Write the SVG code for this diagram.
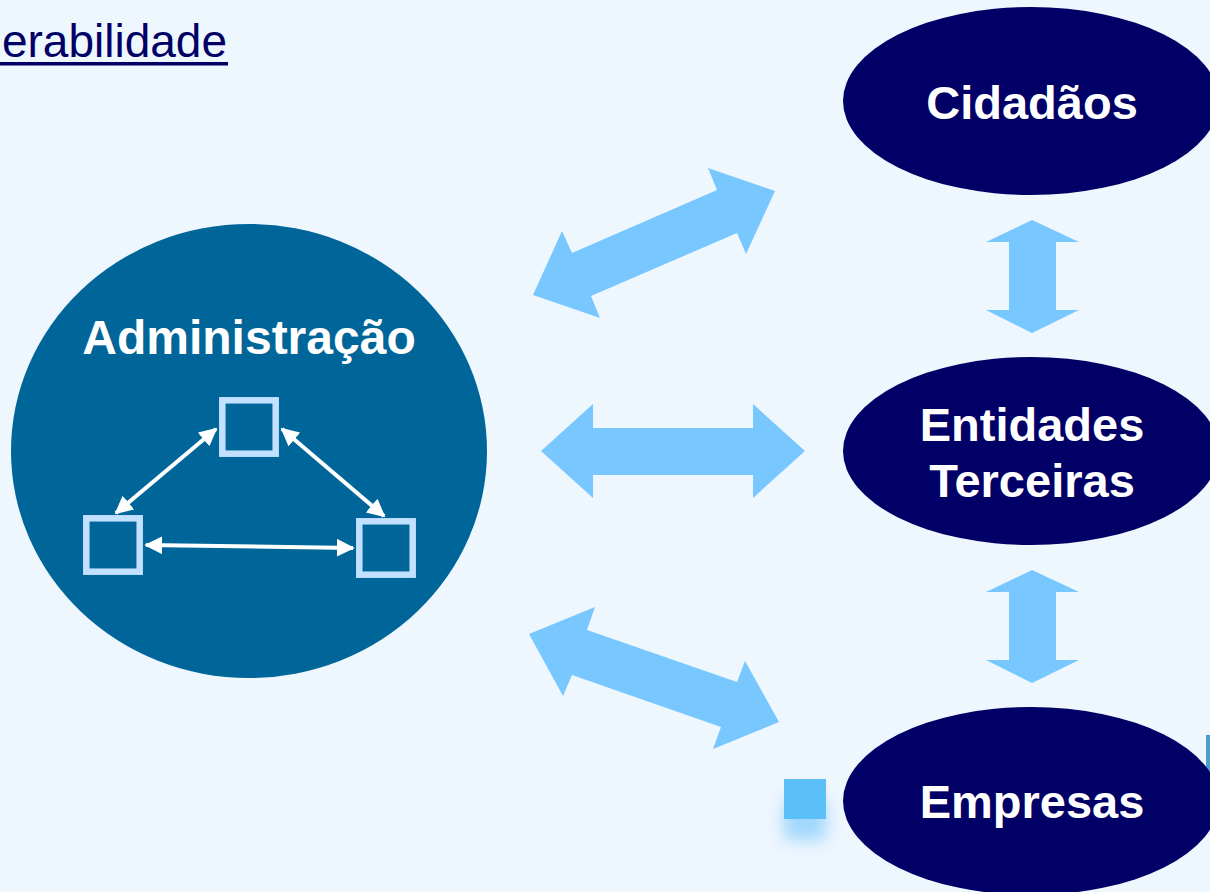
<svg xmlns="http://www.w3.org/2000/svg" width="1210" height="892" viewBox="0 0 1210 892">
<style>
.bg{fill:#EEF6FE}
.ell{fill:#000066}
.lbl{font-family:"Liberation Sans",Arial,sans-serif;font-weight:bold;font-size:47px;fill:#FFFFFF;text-anchor:middle}
.big{fill:#78C8FF}
.sq{fill:none;stroke:#C2E0FF;stroke-width:6.5}
.wl{stroke:#FFFFFF;stroke-width:4;fill:none;marker-start:url(#ah);marker-end:url(#ah)}
</style>
<defs>
<marker id="ah" viewBox="0 0 10 10" refX="9" refY="5" markerWidth="4.5" markerHeight="4.5" orient="auto-start-reverse" markerUnits="strokeWidth">
<path d="M0,0 L10,5 L0,10 Z" fill="#FFFFFF"/>
</marker>
<filter id="glow" x="-100%" y="-100%" width="300%" height="300%">
<feGaussianBlur stdDeviation="8"/>
</filter>
</defs>
<rect class="bg" x="0" y="0" width="1210" height="892"/>

<g id="title">
<text x="227" y="57" font-family="'Liberation Sans',Arial,sans-serif" font-size="46" fill="#000066" text-anchor="end">erabilidade</text>
<rect x="0" y="62" width="228" height="3.5" fill="#000066"/>
</g>

<g id="decor">
<rect x="784" y="800" width="42" height="40" fill="#7FCBFA" filter="url(#glow)" opacity="0.7"/>
<rect x="784" y="779" width="42" height="40" fill="#5BC0F7"/>
<rect x="1206" y="735" width="4" height="40" fill="#4A9ECC"/>
</g>

<g id="connectors">
<polygon class="big" points="775,191 708,168 717,190 572,253 562,231 533,295 600,318 591,296 737,233 746,254"/>
<polygon class="big" points="541,451 593,404 593,428 753,428 753,404 805,451 753,498 753,475 593,475 593,498"/>
<polygon class="big" points="529,634 595,607 587,630 737,682 745,661 779,722 713,749 721,727 572,675 563,696"/>
<polygon class="big" points="1032,220 1079,242 1056,242 1056,310 1079,310 1032,333 986,310 1009,310 1009,242 986,242"/>
<polygon class="big" points="1032,570 1079,592 1056,592 1056,660 1079,660 1032,683 986,660 1009,660 1009,592 986,592"/>
</g>

<g id="administracao">
<ellipse cx="249" cy="451" rx="238" ry="227" fill="#006699"/>
<text class="lbl" x="249" y="354" style="font-size:48px">Administração</text>
</g>

<g id="inner-nodes">
<rect id="sq-top" class="sq" x="222.3" y="400.3" width="53.4" height="53.4"/>
<rect id="sq-left" class="sq" x="86.3" y="518.3" width="53.4" height="53.4"/>
<rect id="sq-right" class="sq" x="359.3" y="521.3" width="53.4" height="53.4"/>
</g>

<g id="inner-connectors">
<line class="wl" x1="216" y1="429" x2="116" y2="513"/>
<line class="wl" x1="282" y1="429" x2="384" y2="516"/>
<line class="wl" x1="146" y1="545" x2="353" y2="548"/>
</g>

<g id="cidadaos">
<ellipse class="ell" cx="1031" cy="101" rx="188" ry="94"/>
<text class="lbl" x="1032" y="119">Cidadãos</text>
</g>

<g id="entidades">
<ellipse class="ell" cx="1031" cy="451" rx="188" ry="94"/>
<text class="lbl" x="1032" y="441">Entidades</text>
<text class="lbl" x="1032" y="497">Terceiras</text>
</g>

<g id="empresas">
<ellipse class="ell" cx="1031" cy="801" rx="188" ry="94"/>
<text class="lbl" x="1032" y="818">Empresas</text>
</g>
</svg>
